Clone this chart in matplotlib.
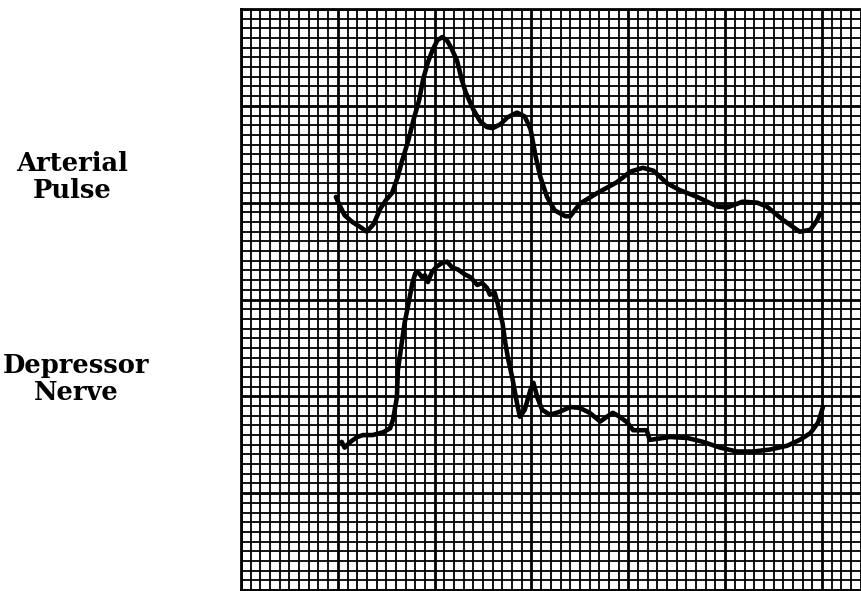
import numpy as np
import matplotlib
matplotlib.use("Agg")
import matplotlib.pyplot as plt
from matplotlib.ticker import MultipleLocator

# Values in chart-paper grid units (1 unit = one small square)
pulse_t = [9.8, 10.2, 10.7, 11.5, 12.3, 13.0, 13.7, 14.4, 15.0, 15.6, 16.2, 16.6,
           17.3, 17.8, 18.4, 18.8, 19.3, 19.8, 20.3, 20.8, 21.3, 21.7, 22.3, 22.8,
           23.2, 24.0, 24.7, 25.4, 26.0, 26.8, 27.5, 28.5, 29.3, 29.9, 30.4, 30.9,
           31.6, 32.4, 33.5, 34.0, 35.0, 36.8, 38.8, 40.2, 41.5, 42.6, 44.0, 45.3,
           47.1, 49.2, 50.2, 51.8, 53.3, 54.3, 56.0, 57.7, 58.8, 59.5, 59.8]
pulse_v = [40.6, 39.7, 38.7, 38.0, 37.5, 37.0, 37.8, 39.4, 40.3, 41.0, 42.7, 44.2,
           46.5, 48.5, 50.6, 52.7, 54.5, 55.8, 56.8, 57.1, 56.7, 56.0, 54.7, 52.7,
           51.4, 49.6, 48.4, 47.8, 47.7, 48.1, 48.8, 49.3, 48.9, 47.6, 44.9, 42.7,
           40.6, 39.2, 38.6, 38.6, 39.9, 41.0, 42.1, 43.2, 43.6, 43.3, 42.0, 41.3,
           40.6, 39.6, 39.5, 40.1, 40.0, 39.6, 38.2, 37.0, 37.2, 38.2, 38.9]

nerve_t = [10.4, 10.7, 11.3, 12.0, 12.6, 13.6, 14.7, 15.4, 15.7, 16.1, 16.2, 16.6,
           16.9, 17.3, 17.7, 18.0, 18.3, 18.7, 19.0, 19.3, 19.7, 20.2, 20.8, 21.3,
           21.8, 22.4, 23.1, 23.7, 24.4, 24.9, 25.4, 25.7, 26.2, 26.5, 27.0, 27.3,
           27.6, 28.0, 28.5, 28.8, 29.3, 29.9, 30.2, 30.6, 31.1, 31.9, 32.9, 34.0,
           35.0, 36.0, 37.1, 37.8, 38.4, 39.1, 39.9, 40.5, 41.9, 42.2, 44.3, 46.1,
           47.7, 49.5, 51.2, 52.9, 54.6, 56.4, 57.7, 58.8, 59.6, 60.1]
nerve_v = [15.3, 14.7, 15.3, 15.8, 16.0, 16.0, 16.3, 16.7, 17.6, 19.9, 22.7, 25.5,
           27.6, 29.6, 31.7, 32.7, 32.8, 32.3, 32.5, 31.8, 32.8, 33.4, 33.8, 33.9,
           33.3, 33.1, 32.6, 32.3, 31.5, 31.7, 31.2, 30.5, 30.7, 29.6, 27.6, 25.5,
           23.8, 22.0, 19.3, 17.9, 18.6, 20.7, 21.4, 19.9, 18.6, 18.1, 18.4, 18.9,
           18.8, 18.3, 17.4, 17.9, 18.3, 17.9, 17.3, 16.5, 16.5, 15.5, 15.8, 15.7,
           15.3, 14.7, 14.3, 14.3, 14.5, 14.9, 15.5, 16.2, 17.3, 18.9]

labels = ["Arterial\nPulse", "Depressor\nNerve"]

W, H = 862, 591
fig = plt.figure(figsize=(W / 100, H / 100), dpi=100)
left, right, top, bottom = 241, 862, 9, 590
ax = fig.add_axes([left / W, 1 - bottom / H, (right - left) / W, (bottom - top) / H])
unit = (bottom - top) / 60.0
ax.set_xlim(0, (right - left) / unit)
ax.set_ylim(0, 60)

ax.xaxis.set_major_locator(MultipleLocator(10))
ax.xaxis.set_minor_locator(MultipleLocator(1))
ax.yaxis.set_major_locator(MultipleLocator(10))
ax.yaxis.set_minor_locator(MultipleLocator(1))
ax.grid(which="minor", color="black", linewidth=1.3)
ax.grid(which="major", color="black", linewidth=2.0)
ax.tick_params(which="both", length=0, labelbottom=False, labelleft=False)
for s in ["top", "left", "bottom"]:
    ax.spines[s].set_linewidth(2.0)
ax.spines["right"].set_visible(False)
ax.set_axisbelow(True)

ax.plot(pulse_t, pulse_v, color="black", linewidth=3.3, solid_joinstyle="round",
        solid_capstyle="round", zorder=5)
ax.plot(nerve_t, nerve_v, color="black", linewidth=3.3, solid_joinstyle="round",
        solid_capstyle="round", zorder=5)

fig.text(72 / W, 1 - 177 / H, labels[0], ha="center", va="center",
         family="DejaVu Serif", fontsize=18.5, fontweight="bold", linespacing=1.1)
fig.text(76 / W, 1 - 379 / H, labels[1], ha="center", va="center",
         family="DejaVu Serif", fontsize=18.5, fontweight="bold", linespacing=1.1)

fig.savefig("out.png", dpi=100, facecolor="white")
